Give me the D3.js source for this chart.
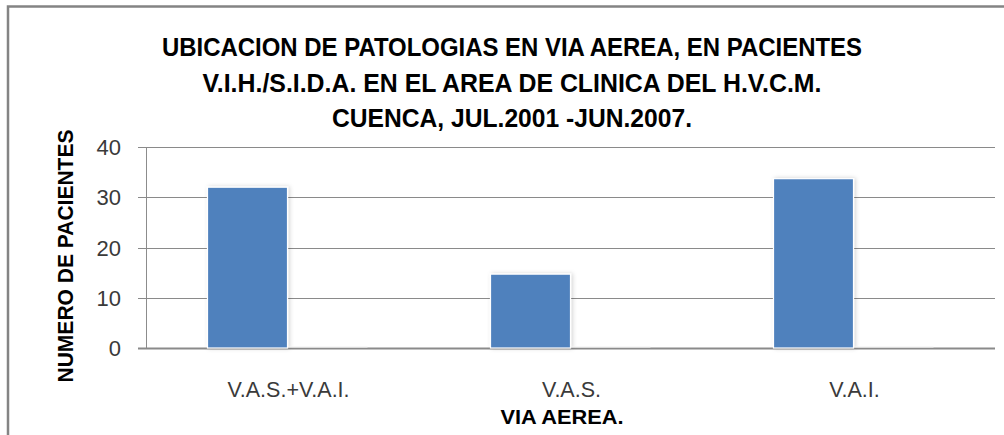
<!DOCTYPE html>
<html>
<head>
<meta charset="utf-8">
<script src="https://cdn.jsdelivr.net/npm/d3@7"></script>
<style>
  html, body { margin: 0; padding: 0; background: #fff; }
  svg { display: block; }
</style>
</head>
<body>
<svg id="chart" width="1004" height="435"></svg>
<script>
const categories = ["V.A.S.+V.A.I.", "V.A.S.", "V.A.I."];
const seriesNames = ["Pacientes", "Serie 2"];
const seriesPacientes = [32, 14.7, 33.7];
const seriesSecond = [0, 0, 0];
const yTicks = [0, 10, 20, 30, 40];
const titleLines = [
  "UBICACION DE PATOLOGIAS EN VIA AEREA, EN PACIENTES",
  "V.I.H./S.I.D.A. EN EL AREA DE CLINICA DEL H.V.C.M.",
  "CUENCA, JUL.2001 -JUN.2007."
];
const yAxisTitle = "NUMERO DE PACIENTES";
const xAxisTitle = "VIA AEREA.";

const svg = d3.select("#chart");
const font = "'Liberation Sans', Arial, sans-serif";

// outer chart border (extends past window right/bottom)
svg.append("rect")
  .attr("x", 8).attr("y", 6.5).attr("width", 1100).attr("height", 600)
  .attr("fill", "none").attr("stroke", "#848484").attr("stroke-width", 2.5);

const defs = svg.append("defs");
const f = defs.append("filter").attr("id", "shadow")
  .attr("x", "-10%").attr("y", "-10%").attr("width", "130%").attr("height", "120%");
f.append("feDropShadow").attr("dx", 1.5).attr("dy", 0).attr("stdDeviation", 2)
  .attr("flood-color", "#000").attr("flood-opacity", 0.18);

const plot = { left: 146, right: 995, top: 147, bottom: 348 };

const x = d3.scaleBand().domain(categories).range([plot.left, plot.right]).padding(0);
const xs = d3.scaleBand().domain(seriesNames).range([0, x.bandwidth()])
  .paddingInner(0).paddingOuter(0.769);
const y = d3.scaleLinear().domain([0, 40]).range([plot.bottom, plot.top]);

// gridlines + tick marks
svg.append("g").selectAll("line").data(yTicks).join("line")
  .attr("x1", plot.left - 8).attr("x2", plot.right)
  .attr("y1", d => Math.round(y(d)) + 0.5).attr("y2", d => Math.round(y(d)) + 0.5)
  .attr("stroke", "#8a8a8a")
  .attr("stroke-width", d => d === 0 ? 2 : 1);

// vertical axis line
svg.append("line")
  .attr("x1", plot.left + 0.5).attr("x2", plot.left + 0.5)
  .attr("y1", y(40)).attr("y2", y(0))
  .attr("stroke", "#8c8c8c").attr("stroke-width", 1);

// y tick labels
svg.append("g").selectAll("text").data(yTicks).join("text")
  .attr("x", 121).attr("y", d => y(d) + 8)
  .attr("text-anchor", "end")
  .attr("font-family", font).attr("font-size", 22).attr("fill", "#3a3a3a")
  .text(d => d);

// bars
const data = categories.map((c, i) => ({ cat: c, vals: [seriesPacientes[i], seriesSecond[i]] }));
const groups = svg.append("g").selectAll("g").data(data).join("g")
  .attr("transform", d => `translate(${x(d.cat)},0)`);
groups.selectAll("rect.s1").data(d => [d.vals[0]]).join("rect")
  .attr("class", "s1")
  .attr("x", xs(seriesNames[0]))
  .attr("y", v => y(v))
  .attr("width", xs.bandwidth())
  .attr("height", v => y(0) - y(v))
  .attr("fill", "#4F81BD")
  .attr("stroke", "#fff").attr("stroke-width", 1.2)
  .attr("filter", "url(#shadow)");
groups.selectAll("rect.s2").data(d => [d.vals[1]]).join("rect")
  .attr("class", "s2")
  .attr("x", xs(seriesNames[1]))
  .attr("y", v => y(v) - 1.5)
  .attr("width", xs.bandwidth())
  .attr("height", v => y(0) - y(v) + 1)
  .attr("fill", "#f2f2f2");

// category labels
svg.append("g").selectAll("text").data(categories).join("text")
  .attr("x", d => x(d) + x.bandwidth() / 2 + 1)
  .attr("y", 397)
  .attr("text-anchor", "middle")
  .attr("font-family", font).attr("font-size", 21.5).attr("fill", "#3a3a3a")
  .text(d => d);

// x axis title
svg.append("text")
  .attr("x", 562).attr("y", 424)
  .attr("text-anchor", "middle")
  .attr("font-family", font).attr("font-size", 21).attr("font-weight", "bold")
  .attr("fill", "#000")
  .attr("textLength", 123).attr("lengthAdjust", "spacingAndGlyphs")
  .text(xAxisTitle);

// y axis title
svg.append("text")
  .attr("transform", "translate(73,256) rotate(-90)")
  .attr("text-anchor", "middle")
  .attr("font-family", font).attr("font-size", 22).attr("font-weight", "bold")
  .attr("fill", "#000")
  .attr("textLength", 253).attr("lengthAdjust", "spacingAndGlyphs")
  .text(yAxisTitle);

// title
const titleWidths = [700, 619, 360];
const titleBaselines = [56, 91.5, 127];
svg.append("g").selectAll("text").data(titleLines).join("text")
  .attr("x", 512).attr("y", (d, i) => titleBaselines[i])
  .attr("text-anchor", "middle")
  .attr("font-family", font).attr("font-size", 26).attr("font-weight", "bold")
  .attr("fill", "#000")
  .attr("textLength", (d, i) => titleWidths[i]).attr("lengthAdjust", "spacingAndGlyphs")
  .text(d => d);
</script>
</body>
</html>
